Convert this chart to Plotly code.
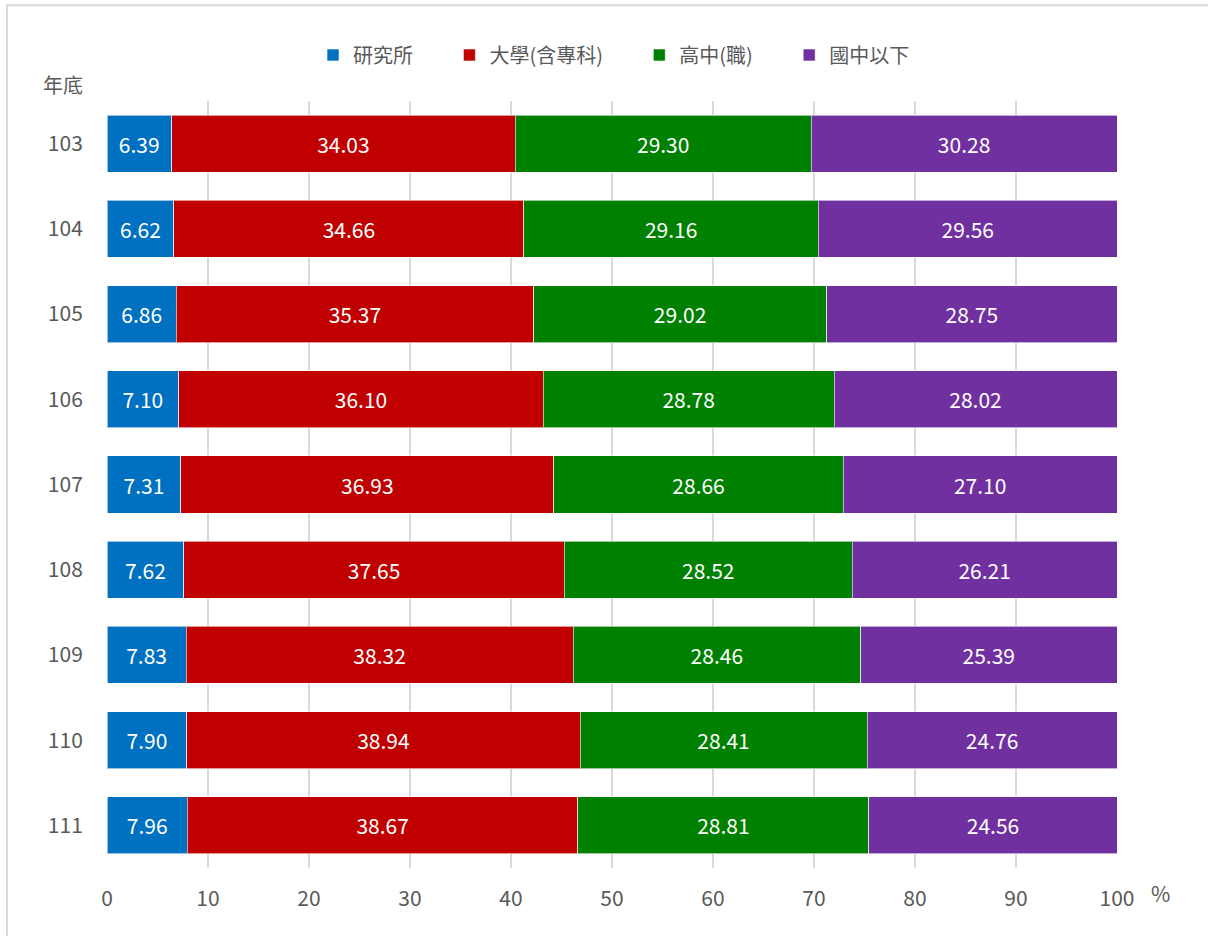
import plotly.graph_objects as go

years = ["103", "104", "105", "106", "107", "108", "109", "110", "111"]
grad = [6.39, 6.62, 6.86, 7.10, 7.31, 7.62, 7.83, 7.90, 7.96]
univ = [34.03, 34.66, 35.37, 36.10, 36.93, 37.65, 38.32, 38.94, 38.67]
high = [29.30, 29.16, 29.02, 28.78, 28.66, 28.52, 28.46, 28.41, 28.81]
junior = [30.28, 29.56, 28.75, 28.02, 27.10, 26.21, 25.39, 24.76, 24.56]

series = [
    ("研究所", grad, "#0070C0"),
    ("大學(含專科)", univ, "#C00000"),
    ("高中(職)", high, "#008000"),
    ("國中以下", junior, "#7030A0"),
]

FONT = "Noto Sans CJK TC, Noto Sans, sans-serif"
PAD = "\u00a0" * 7
fig = go.Figure()
for i, (name, vals, color) in enumerate(series):
    fig.add_trace(go.Bar(
        y=years, x=vals, name=name + (PAD if i < len(series) - 1 else ""),
        orientation="h",
        marker=dict(color=color, line=dict(color="rgba(255,255,255,0.6)", width=1)),
        text=[f"{v:.2f}" for v in vals], textposition="inside",
        insidetextanchor="middle",
        textfont=dict(color="white", size=21, family=FONT),
        width=0.67,
    ))

fig.update_layout(
    barmode="stack",
    width=1208, height=936,
    margin=dict(l=107, r=91, t=101, b=68),
    paper_bgcolor="white", plot_bgcolor="white",
    font=dict(family=FONT, color="#595959", size=20),
    legend=dict(orientation="h", x=0.502, xanchor="center", y=1.06, yanchor="middle",
                font=dict(size=20, color="#595959"), traceorder="normal",
                itemwidth=30),
    uniformtext=dict(mode="show", minsize=12),
    showlegend=True,
)
fig.update_xaxes(range=[0, 100], dtick=10, showgrid=True, gridcolor="#D9D9D9",
                 gridwidth=2, zeroline=False, showline=False,
                 ticks="outside", ticklen=12, tickcolor="rgba(0,0,0,0)",
                 tickfont=dict(size=21, color="#595959"))
fig.update_yaxes(autorange="reversed", showline=False, ticks="outside", ticklen=19,
                 tickcolor="rgba(0,0,0,0)", tickfont=dict(size=21, color="#595959"))

fig.add_annotation(text="年底", xref="paper", yref="paper", x=-0.0436, y=1.022,
                   showarrow=False, xanchor="center", yanchor="middle",
                   font=dict(size=20, color="#595959"))
fig.add_annotation(text="%", xref="paper", yref="paper", x=1.0426, y=-0.0326,
                   showarrow=False, xanchor="center", yanchor="middle",
                   font=dict(size=21, color="#595959"))
fig.add_shape(type="rect", xref="paper", yref="paper", x0=-0.099, x1=1.2,
              y0=-0.2, y1=1.125, line=dict(color="#D9D9D9", width=2))

fig.write_html("out.html", config={"displayModeBar": False},
               post_script="document.body.style.margin='0';")
